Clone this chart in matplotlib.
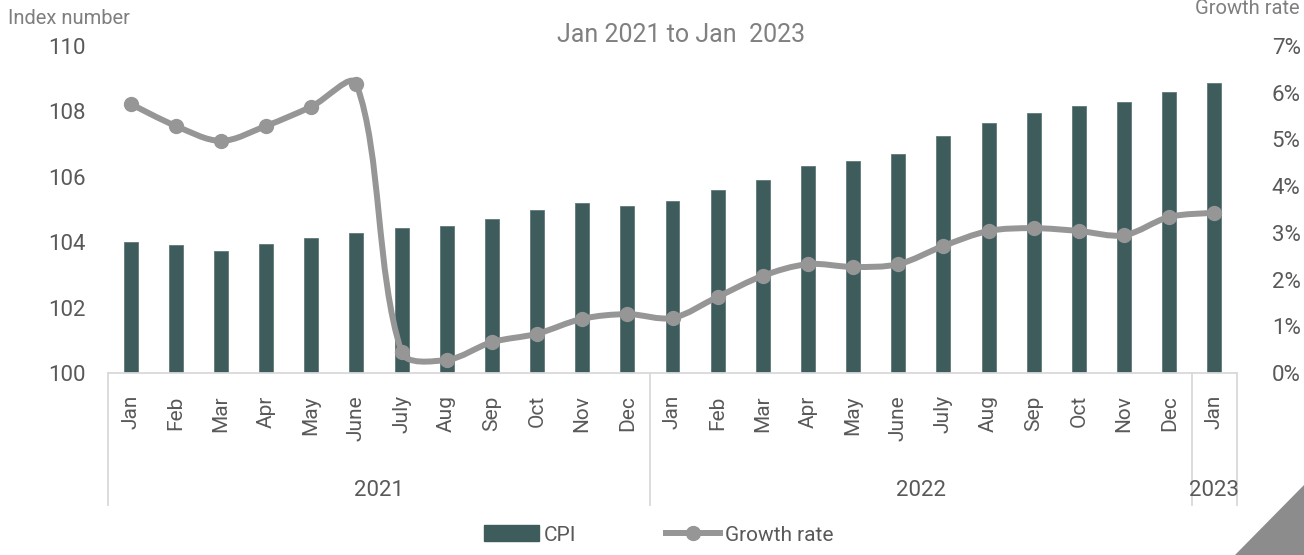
import numpy as np
import matplotlib
matplotlib.use("Agg")
import matplotlib.pyplot as plt
from matplotlib.path import Path
from matplotlib.patches import PathPatch, Polygon, Patch
from matplotlib.lines import Line2D
import matplotlib.transforms as mtransforms

plt.rcParams['font.family'] = ['Roboto', 'DejaVu Sans']

# 数据
months = ['Jan', 'Feb', 'Mar', 'Apr', 'May', 'June', 'July', 'Aug', 'Sep', 'Oct', 'Nov', 'Dec',
          'Jan', 'Feb', 'Mar', 'Apr', 'May', 'June', 'July', 'Aug', 'Sep', 'Oct', 'Nov', 'Dec',
          'Jan']
years = ['2021', '2022', '2023']
year_counts = [12, 12, 1]
cpi = [104.0, 103.9, 103.73, 103.94, 104.13, 104.28, 104.43, 104.5, 104.71, 104.98, 105.2, 105.1,
       105.26, 105.6, 105.9, 106.33, 106.48, 106.7, 107.25, 107.65, 107.95, 108.17, 108.3, 108.6,
       108.87]
growth = [5.76, 5.29, 4.97, 5.29, 5.7, 6.19, 0.45, 0.28, 0.66, 0.84, 1.16, 1.26,
          1.18, 1.63, 2.08, 2.33, 2.27, 2.33, 2.72, 3.04, 3.1, 3.04, 2.95, 3.34, 3.43]

BAR = '#3e5c5b'
LINE = '#969696'
TXT = '#595959'
GRID = '#d9d9d9'

W, H = 1304, 555
fig = plt.figure(figsize=(W / 100, H / 100), dpi=100)
ax_l, ax_b, ax_w, ax_h = 108 / W, 1 - 373 / H, 1129 / W, 327 / H
ax = fig.add_axes([ax_l, ax_b, ax_w, ax_h])
ax2 = ax.twinx()

x = np.arange(len(cpi))
ax.bar(x, np.array(cpi) - 100, bottom=100, width=0.31, color=BAR, edgecolor='#5f7a79', linewidth=0.6, zorder=2)
ax.set_xlim(-0.5, len(cpi) - 0.5)
ax.set_ylim(100, 110)
ax.set_yticks(np.arange(100, 111, 2))

# 平滑曲线 (Excel 风格的贝塞尔)
px_cat = ax_w * W / len(cpi)
px_pct = ax_h * H / 7.0
pts = np.column_stack([x, growth]).astype(float)
n = len(pts)
def dist(i, j):
    d = pts[j] - pts[i]
    return np.hypot(d[0] * px_cat, d[1] * px_pct)
verts = [tuple(pts[0])]
codes = [Path.MOVETO]
for i in range(n - 1):
    p0 = pts[max(i - 1, 0)]
    p1 = pts[i]
    p2 = pts[i + 1]
    p3 = pts[min(i + 2, n - 1)]
    d01 = dist(max(i - 1, 0), i)
    d12 = dist(i, i + 1)
    d23 = dist(i + 1, min(i + 2, n - 1))
    f1 = d12 / (d01 + d12) if i > 0 else 0.5
    f2 = d12 / (d12 + d23) if i + 2 < n else 0.5
    c1 = p1 + (p2 - p0) * f1 / 3.0
    c2 = p2 - (p3 - p1) * f2 / 3.0
    verts += [tuple(c1), tuple(c2), tuple(p2)]
    codes += [Path.CURVE4] * 3
ax2.add_patch(PathPatch(Path(verts, codes), facecolor='none', edgecolor=LINE, lw=4.3,
                        capstyle='round', joinstyle='round', zorder=3))
ax2.plot(x, growth, linestyle='none', marker='o', markersize=10, color=LINE, zorder=4)
ax2.set_ylim(0, 7)
ax2.set_yticks(np.arange(0, 8, 1))
ax2.set_yticklabels([f'{v}%' for v in range(8)])

for a in (ax, ax2):
    for s in a.spines.values():
        s.set_visible(False)
ax.spines['bottom'].set_visible(True)
ax.spines['bottom'].set_color(GRID)
ax.spines['bottom'].set_linewidth(1.3)
ax.tick_params(axis='y', length=0, labelsize=16, labelcolor=TXT, pad=16)
ax2.tick_params(axis='y', length=0, labelsize=16, labelcolor=TXT, pad=25)
ax.set_xticks(x)
ax.set_xticklabels(months, rotation=90, fontsize=15, color=TXT)
ax.tick_params(axis='x', length=0, pad=16)

# 年份分组
trans = mtransforms.blended_transform_factory(ax.transData, ax.transAxes)
edges = np.concatenate([[0], np.cumsum(year_counts)]) - 0.5
for e in edges:
    ax.plot([e, e], [0, -0.405], transform=trans, color=GRID, lw=1.3, clip_on=False)
for i, yr in enumerate(years):
    ax.text((edges[i] + edges[i + 1]) / 2, -0.358, yr, transform=trans, ha='center', va='center',
            fontsize=16, color=TXT)

fig.text(8 / W, 1 - 18 / H, 'Index number', fontsize=14.5, color='#7f7f7f', ha='left', va='center')
fig.text(1300 / W, 1 - 8 / H, 'Growth rate', fontsize=14.5, color='#7f7f7f', ha='right', va='center')
fig.text(681 / W, 1 - 35 / H, 'Jan 2021 to Jan  2023', fontsize=18, color='#808080', ha='center', va='center')

handles = [Patch(facecolor=BAR, edgecolor=BAR),
           Line2D([], [], color=LINE, lw=4.3, marker='o', markersize=10)]
fig.legend(handles, ['CPI', 'Growth rate'], loc='center', bbox_to_anchor=(659 / W, 1 - 535 / H), ncol=2,
           frameon=False, fontsize=15, labelcolor=TXT, handlelength=2.6, handletextpad=0.25,
           columnspacing=4.3, handleheight=0.8)

fig.patches.append(Polygon([[1, 70 / H], [1, 0], [1235 / W, 0]], closed=True,
                           transform=fig.transFigure, facecolor='#8c8c8c', edgecolor='none'))

fig.savefig('out.png', dpi=100)
